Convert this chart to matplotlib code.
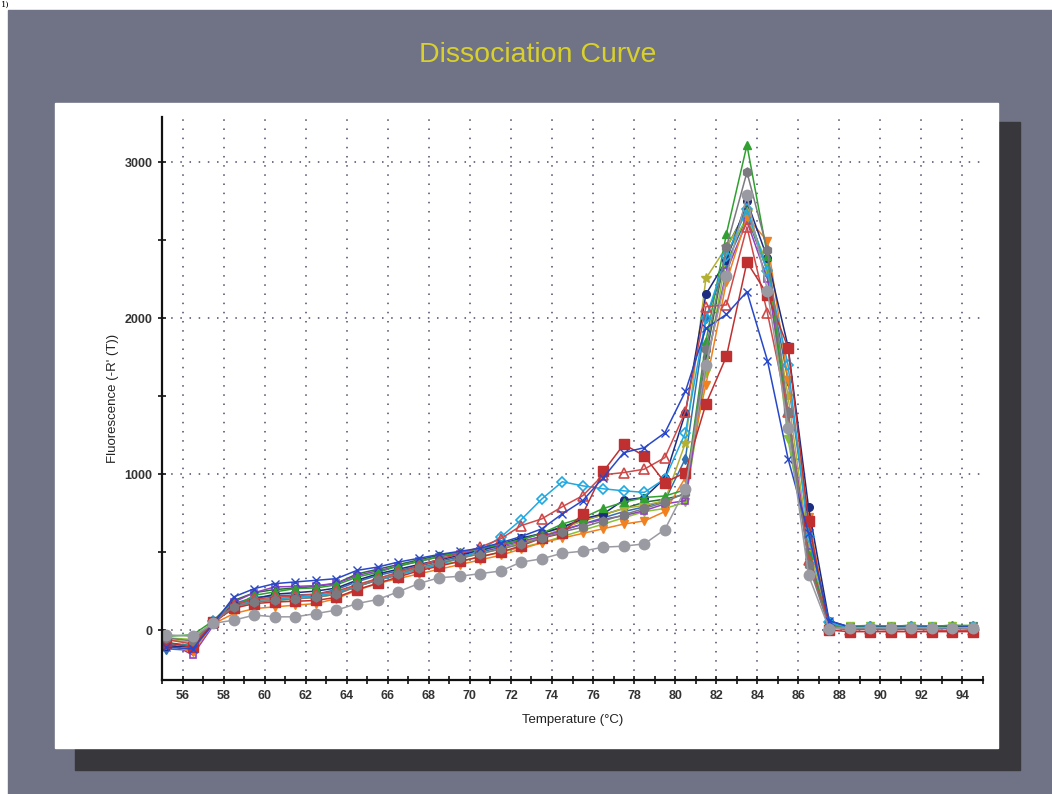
import matplotlib
matplotlib.use("Agg")
import matplotlib.pyplot as plt
from matplotlib.patches import Rectangle
from matplotlib.ticker import MultipleLocator

plt.rcParams['font.family'] = ['Liberation Sans', 'DejaVu Sans']

# temperatures (deg C) of the melt steps
temps = [55.2, 56.5, 57.5, 58.5, 59.5, 60.5, 61.5, 62.5, 63.5, 64.5,
         65.5, 66.5, 67.5, 68.5, 69.5, 70.5, 71.5, 72.5, 73.5, 74.5,
         75.5, 76.5, 77.5, 78.5, 79.5, 80.5, 81.5, 82.5, 83.5, 84.5,
         85.5, 86.5, 87.5, 88.5, 89.5, 90.5, 91.5, 92.5, 93.5, 94.5]

# -R'(T) for each well
blue_x = [-110, -120, 40, 213, 266, 298, 309, 319, 330, 383, 404, 436, 460, 485, 505, 525, 560, 600, 649, 745,
          830, 978, 1138, 1170, 1265, 1530, 1935, 2025, 2170, 1727, 1100, 620, 60, 20, 15, 20, 15, 20, 10, 25]
red_sq = [-80, -110, 50, 140, 170, 180, 185, 190, 210, 260, 300, 340, 380, 410, 440, 470, 500, 540, 590, 620,
          745, 1017, 1191, 1117, 946, 1010, 1450, 1755, 2360, 2150, 1812, 700, 0, -10, -10, -10, -10, -10, -10, -10]
red_tri = [-60, -90, 45, 160, 200, 210, 220, 230, 250, 290, 330, 370, 410, 455, 490, 532, 585, 670, 713, 791,
           862, 996, 1010, 1032, 1106, 1400, 2074, 2085, 2585, 2031, 1400, 450, 20, 0, 5, 0, 5, 0, -5, 0]
cyan_dia = [-90, -100, 60, 150, 190, 200, 210, 220, 240, 280, 320, 350, 390, 420, 460, 510, 596, 708, 840, 951,
            925, 906, 893, 883, 970, 1265, 2000, 2400, 2700, 2300, 1700, 600, 50, 10, 20, 10, 20, 15, 10, 20]
green_tri = [-40, -30, 60, 150, 223, 245, 266, 270, 290, 340, 370, 410, 440, 470, 500, 520, 550, 580, 620, 680,
             720, 780, 820, 850, 860, 900, 1851, 2542, 3110, 2400, 1300, 480, 30, 20, 30, 25, 30, 25, 30, 30]
gray_circ = [-30, -40, 43, 64, 96, 85, 85, 106, 128, 170, 196, 245, 298, 336, 345, 362, 379, 436, 457, 493,
             506, 532, 538, 553, 645, 904, 1702, 2272, 2787, 2174, 1298, 351, 10, 15, 15, 15, 15, 15, 15, 15]
orange_v = [-90, -140, 40, 106, 138, 149, 160, 170, 202, 255, 298, 330, 360, 390, 420, 450, 480, 520, 560, 590,
            620, 650, 680, 700, 760, 978, 1574, 2233, 2648, 2493, 1606, 723, 10, 5, 10, 5, 10, 5, 10, 5]
navy_circ = [-100, -110, 50, 160, 200, 230, 240, 250, 270, 320, 360, 390, 420, 450, 480, 510, 550, 590, 620, 660,
             713, 745, 834, 850, 974, 1393, 2153, 2372, 2750, 2383, 1819, 787, 60, 20, 20, 20, 20, 20, 20, 20]
purple_sq = [-70, -160, 30, 180, 240, 277, 280, 285, 300, 350, 380, 410, 440, 470, 490, 510, 540, 570, 600, 640,
             680, 710, 734, 766, 809, 830, 1700, 2300, 2620, 2250, 1400, 500, 20, 10, 15, 10, 15, 10, 15, 10]
lime_v = [-50, -60, 55, 140, 180, 190, 200, 210, 230, 280, 320, 360, 390, 420, 440, 470, 500, 530, 560, 600,
          640, 680, 720, 760, 780, 819, 1650, 2400, 2650, 2350, 1223, 489, 25, 25, 25, 25, 25, 25, 25, 25]
olive_star = [-60, -80, 50, 150, 190, 200, 210, 220, 240, 290, 330, 370, 400, 430, 460, 490, 520, 560, 600, 650,
              700, 740, 780, 800, 830, 1200, 2255, 2456, 2680, 2300, 1500, 550, 30, 20, 20, 20, 20, 20, 20, 20]
dkgray_hex = [-50, -70, 50, 150, 180, 190, 200, 210, 230, 280, 320, 360, 400, 430, 460, 490, 520, 550, 590, 630,
              660, 700, 740, 780, 820, 880, 1800, 2456, 2936, 2436, 1400, 420, 20, 15, 15, 15, 15, 15, 15, 15]
dkgreen_plus = [-80, -100, 60, 190, 240, 260, 270, 280, 300, 360, 390, 420, 450, 480, 500, 520, 550, 580, 620, 660,
                700, 740, 780, 820, 840, 870, 1750, 2450, 2700, 2300, 1300, 480, 30, 25, 30, 25, 30, 25, 30, 25]
steel_d = [-120, -130, 45, 170, 210, 220, 225, 230, 260, 310, 350, 380, 410, 440, 470, 500, 530, 560, 600, 640,
           680, 720, 760, 790, 830, 1100, 2000, 2350, 2650, 2300, 1600, 650, 40, 15, 15, 15, 15, 15, 15, 15]

# (values, colour, marker, filled, markersize)
wells = [
    (steel_d, '#3070b0', 'd', True, 5),
    (dkgreen_plus, '#2a6a38', 'P', True, 5),
    (lime_v, '#86c232', 'v', True, 5.5),
    (olive_star, '#b4b034', '*', True, 7),
    (purple_sq, '#9040c0', 's', False, 5),
    (orange_v, '#f08020', 'v', True, 6),
    (navy_circ, '#1c2c80', 'o', True, 5.5),
    (green_tri, '#30a030', '^', True, 6),
    (cyan_dia, '#20a8e0', 'D', False, 5),
    (red_tri, '#d04848', '^', False, 6.5),
    (red_sq, '#c03030', 's', True, 6.5),
    (dkgray_hex, '#7a7a80', 'h', True, 6.5),
    (blue_x, '#2848c8', 'x', True, 6),
    (gray_circ, '#9a9aa2', 'o', True, 7.5),
]

fig = plt.figure(figsize=(10.52, 7.94), dpi=100)
fig.patch.set_facecolor('white')

W, H = 1052.0, 794.0

def box(x0, y0, x1, y1, color, z):
    fig.patches.append(Rectangle((x0 / W, 1 - y1 / H), (x1 - x0) / W, (y1 - y0) / H,
                                 transform=fig.transFigure, color=color, zorder=z))

box(8, 10, 1052, 794, '#707285', 0)      # grey screen
box(75, 122, 1020, 770, '#38383c', 1)    # drop shadow
box(55, 103, 998, 748, 'white', 2)       # white plot panel

fig.text(1 / W, 1 - 1 / H, '1)', ha='left', va='top', fontsize=6, family='serif', color='black')
fig.text(538 / W, 1 - 55 / H, 'Dissociation Curve', ha='center', va='center',
         fontsize=20.5, color='#d8d02c')

ax = fig.add_axes([162 / W, 1 - 680 / H, (983 - 162) / W, (680 - 117) / H])
ax.set_zorder(3)
ax.set_facecolor('none')

for vals, col, mk, filled, ms in wells:
    ax.plot(temps, vals, color=col, lw=1.1, marker=mk, ms=ms,
            mfc=col if filled else 'none', mec=col, mew=1.2 if not filled else 1.0)

ax.set_xlim(55, 95)
ax.set_ylim(-320, 3290)

ax.xaxis.set_minor_locator(MultipleLocator(1))
ax.yaxis.set_minor_locator(MultipleLocator(500))
ax.set_xticks(range(56, 95, 2))
ax.set_xticklabels([str(t) for t in range(56, 95, 2)])
ax.set_yticks([0, 1000, 2000, 3000])

ax.grid(True, which='major', linestyle=(0, (1, 5)), linewidth=1.1, color='#4a4a6a')

for s in ['top', 'right']:
    ax.spines[s].set_visible(False)
for s in ['left', 'bottom']:
    ax.spines[s].set_linewidth(1.6)
    ax.spines[s].set_color('#111111')

ax.tick_params(which='both', direction='inout', length=6, width=1.2, color='#111111')
ax.tick_params(axis='both', which='major', labelsize=9, labelcolor='#333333', pad=4)
for lbl in ax.get_xticklabels() + ax.get_yticklabels():
    lbl.set_fontweight('bold')

ax.set_xlabel('Temperature (°C)', fontsize=9.5, color='#222222', labelpad=9)
ax.set_ylabel("Fluorescence (-R' (T))", fontsize=9.5, color='#222222', labelpad=4)

fig.savefig('out.png', dpi=100)
